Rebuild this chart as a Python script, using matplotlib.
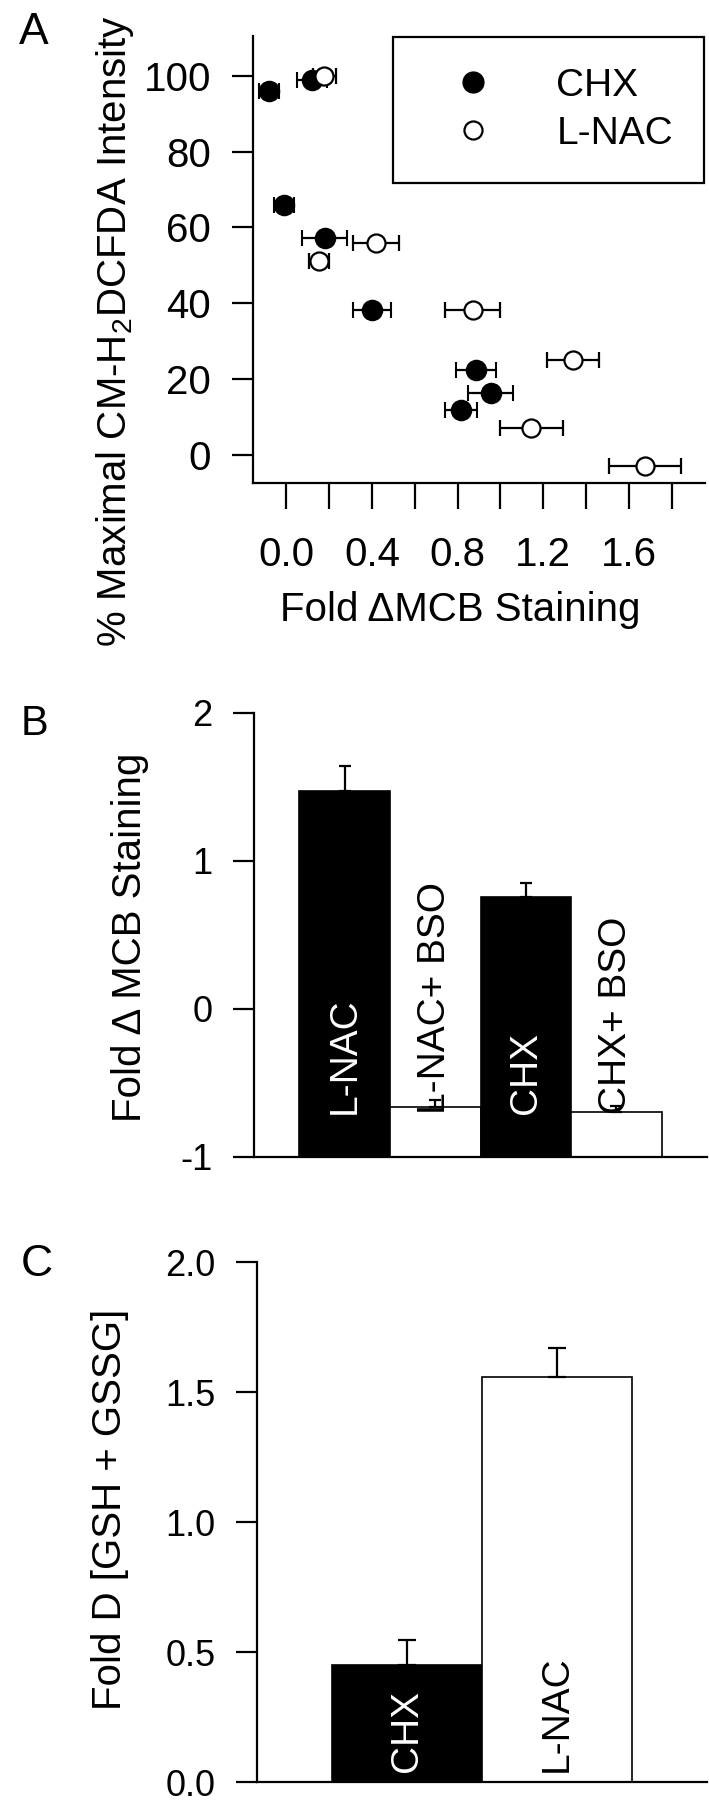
import numpy as np
import matplotlib
matplotlib.use('Agg')
import matplotlib.pyplot as plt
from matplotlib.lines import Line2D

plt.rcParams['font.family'] = ['Liberation Sans', 'DejaVu Sans']
plt.rcParams['mathtext.fontset'] = 'custom'
plt.rcParams['mathtext.rm'] = 'Liberation Sans'
plt.rcParams['axes.unicode_minus'] = False

# Panel A: % maximal CM-H2DCFDA intensity vs fold dMCB staining
chx_x = [-0.08, 0.12, -0.01, 0.18, 0.40, 0.885, 0.955, 0.815]
chx_y = [96.0, 98.8, 66.0, 57.1, 38.3, 22.2, 16.2, 11.9]
chx_xerr = [0.045, 0.07, 0.045, 0.105, 0.09, 0.094, 0.105, 0.076]
nac_x = [0.178, 0.155, 0.42, 0.87, 1.34, 1.145, 1.676]
nac_y = [100.0, 51.2, 55.8, 38.1, 25.0, 6.9, -3.1]
nac_xerr = [0.053, 0.047, 0.107, 0.128, 0.122, 0.148, 0.168]
a_xticks = [0.0, 0.2, 0.4, 0.6, 0.8, 1.0, 1.2, 1.4, 1.6, 1.8]
a_xticklabels = ['0.0', '', '0.4', '', '0.8', '', '1.2', '', '1.6', '']
a_yticks = [0, 20, 40, 60, 80, 100]

# Panel B: fold dMCB staining
b_labels = ['L-NAC', 'L-NAC+ BSO', 'CHX', 'CHX+ BSO']
b_values = [1.47, -0.665, 0.757, -0.695]
b_err = [0.17, 0.05, 0.095, 0.04]
b_colors = ['black', 'white', 'black', 'white']
b_yticks = [-1, 0, 1, 2]

# Panel C: fold [GSH + GSSG]
c_labels = ['CHX', 'L-NAC']
c_values = [0.45, 1.558]
c_err = [0.096, 0.11]
c_colors = ['black', 'white']
c_yticks = [0.0, 0.5, 1.0, 1.5, 2.0]
c_yticklabels = ['0.0', '0.5', '1.0', '1.5', '2.0']

W, H = 709, 1800
fig = plt.figure(figsize=(W / 100, H / 100), dpi=100)


def px_axes(x0, y0, x1, y1):
    return fig.add_axes([x0 / W, 1 - y1 / H, (x1 - x0) / W, (y1 - y0) / H])


def style(ax, ylen, ysize, ypad):
    for s in ['top', 'right']:
        ax.spines[s].set_visible(False)
    for s in ['left', 'bottom']:
        ax.spines[s].set_linewidth(1.6)
    ax.tick_params(axis='y', length=ylen, width=1.6, labelsize=ysize, pad=ypad)


# ---------------- Panel A ----------------
axA = px_axes(253, 36, 705, 483)
style(axA, 15, 29, 15)
axA.errorbar(chx_x, chx_y, xerr=chx_xerr, fmt='o', ms=14, mfc='black', mec='black',
             mew=1.5, ecolor='black', elinewidth=1.6, capsize=5.5, capthick=1.6, zorder=3)
axA.errorbar(nac_x, nac_y, xerr=nac_xerr, fmt='o', ms=13, mfc='white', mec='black',
             mew=1.6, ecolor='black', elinewidth=1.6, capsize=5.5, capthick=1.6, zorder=4)
axA.set_xlim(-0.155, 1.955)
axA.set_ylim(-7.5, 110.5)
axA.set_xticks(a_xticks)
axA.set_xticklabels(a_xticklabels)
axA.set_yticks(a_yticks)
axA.tick_params(axis='x', length=19, width=1.6, labelsize=29, pad=19)

handles = [Line2D([], [], ls='none', marker='o', ms=15, mfc='black', mec='black'),
           Line2D([], [], ls='none', marker='o', ms=13, mfc='white', mec='black', mew=1.6)]
leg = axA.legend(handles, ['CHX', 'L-NAC'], loc='upper left',
                 bbox_to_anchor=(393 / W, 1 - 37 / H), bbox_transform=fig.transFigure,
                 fontsize=28, frameon=True, fancybox=False, framealpha=1,
                 edgecolor='black', borderpad=0.8, handlelength=2.5,
                 handletextpad=0.9, labelspacing=0.3, borderaxespad=0)
leg.get_frame().set_linewidth(1.6)

fig.text(115 / W, 1 - 331 / H, '% Maximal CM-H$_2$DCFDA Intensity', rotation=90,
         ha='center', va='center', fontsize=29)
fig.text(460 / W, 1 - 610 / H, 'Fold \u0394MCB Staining', ha='center', va='center',
         fontsize=29)
fig.text(34 / W, 1 - 32 / H, 'A', ha='center', va='center', fontsize=32)

# ---------------- Panel B ----------------
axB = px_axes(254, 713, 707, 1157)
style(axB, 15, 26, 15)
xb = np.arange(1, len(b_values) + 1)
b_heights = [v + 1 for v in b_values]
axB.bar(xb, b_heights, bottom=-1, width=1.0, color=b_colors, edgecolor='black',
        linewidth=1.2, yerr=[np.zeros(len(b_err)), b_err],
        error_kw=dict(ecolor='black', elinewidth=1.6, capsize=4.5, capthick=1.6), zorder=2)
axB.set_xlim(0, 5)
axB.set_ylim(-1, 2)
axB.set_yticks(b_yticks)
axB.set_xticks([])
for x, lab, c in zip(xb, b_labels, b_colors):
    tc = 'white' if c == 'black' else 'black'
    axB.text(x, -0.71, lab, rotation=90, ha='center', va='bottom', color=tc,
             fontsize=28, zorder=5)
fig.text(130 / W, 1 - 937 / H, 'Fold \u0394 MCB Staining', rotation=90,
         ha='center', va='center', fontsize=29)
fig.text(35 / W, 1 - 724 / H, 'B', ha='center', va='center', fontsize=30)

# ---------------- Panel C ----------------
axC = px_axes(257, 1262, 707, 1782)
style(axC, 15, 26, 15)
xc = np.arange(1, len(c_values) + 1)
axC.bar(xc, c_values, width=1.0, color=c_colors, edgecolor='black', linewidth=1.2,
        yerr=[np.zeros(len(c_err)), c_err],
        error_kw=dict(ecolor='black', elinewidth=1.6, capsize=6.5, capthick=1.6), zorder=2)
axC.set_xlim(0, 3)
axC.set_ylim(0, 2)
axC.set_yticks(c_yticks)
axC.set_yticklabels(c_yticklabels)
axC.set_xticks([])
for x, lab, c in zip(xc, c_labels, c_colors):
    tc = 'white' if c == 'black' else 'black'
    axC.text(x, 0.04, lab, rotation=90, ha='center', va='bottom', color=tc,
             fontsize=28, zorder=5)
fig.text(110 / W, 1 - 1509 / H, 'Fold D [GSH + GSSG]', rotation=90,
         ha='center', va='center', fontsize=29)
fig.text(37 / W, 1 - 1264 / H, 'C', ha='center', va='center', fontsize=32)

fig.savefig('out.png', dpi=100)
